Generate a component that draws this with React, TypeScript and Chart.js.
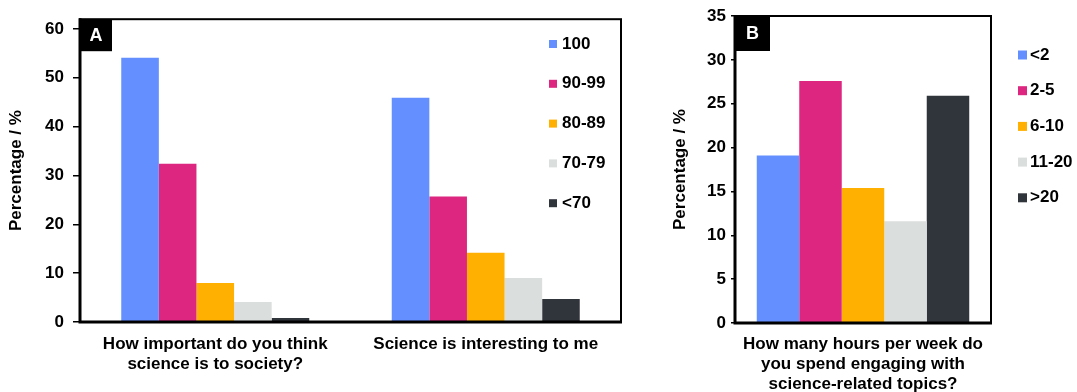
import React, { useEffect, useRef } from 'react';
import { Chart, registerables } from 'chart.js';

Chart.register(...registerables);

const FONT = "'Liberation Sans', Arial, Helvetica, sans-serif";

// ---------- Panel A data ----------
const panelACategories = [
  ['How important do you think', 'science is to society?'],
  ['Science is interesting to me'],
];
const scoreBands = ['100', '90-99', '80-89', '70-79', '<70'];
const band100 = [54.1, 45.9];
const band90to99 = [32.4, 25.7];
const band80to89 = [8.0, 14.2];
const band70to79 = [4.1, 9.0];
const bandBelow70 = [0.8, 4.7];
const panelATicks = [0, 10, 20, 30, 40, 50, 60];

// ---------- Panel B data ----------
const panelBCategories = [
  ['How many hours per week do', 'you spend engaging with', 'science-related topics?'],
];
const hourBands = ['<2', '2-5', '6-10', '11-20', '>20'];
const hourShares = [19.1, 27.6, 15.4, 11.6, 25.9];
const panelBTicks = [0, 5, 10, 15, 20, 25, 30, 35];

const bandColors = ['#648FFF', '#DC267F', '#FFB000', '#DADEDC', '#30353C'];

const decorPlugin = {
  id: 'decor',
  afterDatasetsDraw(chart: any, _args: any, opts: any) {
    const { ctx, chartArea: a } = chart;
    ctx.save();
    ctx.strokeStyle = '#000';
    ctx.lineWidth = 2;
    ctx.strokeRect(a.left, a.top, a.right - a.left, a.bottom - a.top);
    ctx.lineWidth = 3;
    ctx.beginPath();
    ctx.moveTo(a.left, a.top - 1);
    ctx.lineTo(a.left, a.bottom);
    ctx.lineTo(a.right + 1, a.bottom);
    ctx.stroke();

    // panel letter box
    ctx.fillStyle = '#000';
    ctx.fillRect(a.left, a.top, opts.box, opts.box);
    ctx.fillStyle = '#fff';
    ctx.font = `bold 18px ${FONT}`;
    ctx.textAlign = 'center';
    ctx.textBaseline = 'middle';
    ctx.fillText(opts.letter, a.left + opts.box / 2, a.top + opts.box / 2 + 1);

    // legend
    ctx.font = `bold 17px ${FONT}`;
    ctx.textAlign = 'left';
    chart.data.datasets.forEach((ds: any, i: number) => {
      const y = opts.legendY + i * opts.legendStep;
      ctx.fillStyle = ds.backgroundColor;
      ctx.fillRect(opts.legendX, y - opts.sq / 2, opts.sq, opts.sq);
      ctx.fillStyle = '#000';
      ctx.fillText(ds.label, opts.legendX + opts.sq + opts.gap, y);
    });
    ctx.restore();
  },
};

function makeConfig(p: {
  labels: any[];
  datasets: any[];
  max: number;
  step: number;
  tickList: number[];
  yWidth: number;
  xHeight: number;
  padTop: number;
  padRight: number;
  tickLen: number;
  tickPad: number;
  titlePad: number;
  xPad: number;
  catPct: number;
  decor: any;
}) {
  return {
    type: 'bar',
    data: { labels: p.labels, datasets: p.datasets },
    plugins: [decorPlugin],
    options: {
      responsive: false,
      maintainAspectRatio: false,
      animation: false,
      devicePixelRatio: 1,
      layout: { padding: { top: p.padTop, right: p.padRight, left: 0, bottom: 0 } },
      datasets: { bar: { categoryPercentage: p.catPct, barPercentage: 1 } },
      plugins: {
        legend: { display: false },
        tooltip: { enabled: false },
        decor: p.decor,
      },
      scales: {
        x: {
          grid: { display: false },
          border: { display: false },
          ticks: {
            color: '#000',
            padding: p.xPad,
            maxRotation: 0,
            autoSkip: false,
            font: { family: FONT, size: 17, weight: 'bold', lineHeight: 1.15 },
          },
          afterFit(scale: any) {
            scale.height = p.xHeight;
          },
        },
        y: {
          min: 0,
          max: p.max,
          grid: {
            drawOnChartArea: false,
            drawTicks: true,
            tickLength: p.tickLen,
            color: '#000',
            lineWidth: 1.5,
          },
          border: { display: false },
          ticks: {
            stepSize: p.step,
            color: '#000',
            padding: p.tickPad,
            font: { family: FONT, size: 17, weight: 'bold' },
          },
          afterBuildTicks(scale: any) {
            scale.ticks = p.tickList.map((v) => ({ value: v }));
          },
          title: {
            display: true,
            text: 'Percentage / %',
            color: '#000',
            padding: { top: p.titlePad, bottom: 0 },
            font: { family: FONT, size: 17, weight: 'bold', lineHeight: 1.15 },
          },
          afterFit(scale: any) {
            scale.width = p.yWidth;
          },
        },
      },
    },
  } as any;
}

function ChartCanvas({ config, width, height, left }: { config: any; width: number; height: number; left: number }) {
  const ref = useRef<HTMLCanvasElement | null>(null);
  useEffect(() => {
    if (!ref.current) return;
    const chart = new Chart(ref.current, config);
    return () => chart.destroy();
  }, [config]);
  return (
    <canvas
      ref={ref}
      width={width}
      height={height}
      style={{ position: 'absolute', left, top: 0, width, height }}
    />
  );
}

const configA = makeConfig({
  labels: panelACategories,
  datasets: [band100, band90to99, band80to89, band70to79, bandBelow70].map((d, i) => ({
    label: scoreBands[i],
    data: d,
    backgroundColor: bandColors[i],
    borderWidth: 0,
  })),
  max: 62,
  step: 10,
  tickList: panelATicks,
  yWidth: 80,
  xHeight: 70,
  padTop: 15,
  padRight: 29,
  tickLen: 7,
  tickPad: 9,
  titlePad: 7,
  xPad: 5,
  catPct: 0.695,
  decor: { letter: 'A', box: 32, legendX: 549, legendY: 44, legendStep: 39.8, sq: 8, gap: 5 },
});

const configB = makeConfig({
  labels: panelBCategories,
  datasets: hourShares.map((v, i) => ({
    label: hourBands[i],
    data: [v],
    backgroundColor: bandColors[i],
    borderWidth: 0,
  })),
  max: 35,
  step: 5,
  tickList: panelBTicks,
  yWidth: 75,
  xHeight: 69,
  padTop: 16,
  padRight: 86,
  tickLen: 4,
  tickPad: 5,
  titlePad: 11,
  xPad: 4,
  catPct: 0.83,
  decor: { letter: 'B', box: 35, legendX: 358, legendY: 55, legendStep: 35.7, sq: 9, gap: 3 },
});

export default function App() {
  return (
    <div
      style={{
        position: 'fixed',
        left: 0,
        top: 0,
        width: 1077,
        height: 392,
        background: '#fff',
        overflow: 'hidden',
      }}
    >
      <ChartCanvas config={configA} width={650} height={392} left={0} />
      <ChartCanvas config={configB} width={417} height={392} left={660} />
    </div>
  );
}
